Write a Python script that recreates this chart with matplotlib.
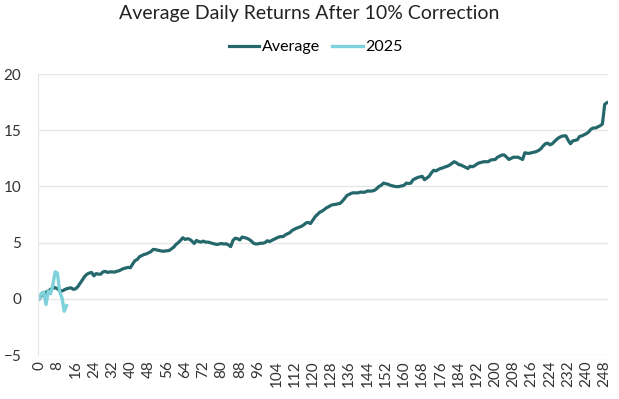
import matplotlib
matplotlib.use("Agg")
import matplotlib.pyplot as plt

average = [
    0.0, 0.3, 0.45, 0.6, 0.7, 0.85, 0.95, 1.0, 0.9, 0.75,
    0.7, 0.8, 0.9, 0.95, 0.98, 0.85, 0.9, 1.1, 1.4, 1.7,
    2.0, 2.2, 2.3, 2.35, 2.05, 2.25, 2.2, 2.2, 2.4, 2.45,
    2.35, 2.4, 2.4, 2.38, 2.45, 2.5, 2.6, 2.7, 2.75, 2.8,
    2.77, 3.1, 3.4, 3.5, 3.75, 3.85, 3.95, 4.0, 4.1, 4.2,
    4.4, 4.38, 4.33, 4.28, 4.24, 4.25, 4.28, 4.3, 4.45, 4.6,
    4.84, 5.0, 5.2, 5.44, 5.29, 5.35, 5.3, 5.14, 4.93, 5.2,
    5.1, 5.05, 5.14, 5.05, 5.05, 5.0, 4.93, 4.88, 4.84, 4.88,
    4.93, 4.88, 4.9, 4.8, 4.65, 5.2, 5.4, 5.35, 5.24, 5.5,
    5.45, 5.4, 5.3, 5.15, 4.95, 4.88, 4.9, 4.95, 4.95, 5.0,
    5.17, 5.1, 5.2, 5.3, 5.4, 5.5, 5.54, 5.54, 5.7, 5.8,
    5.9, 6.1, 6.2, 6.3, 6.38, 6.45, 6.58, 6.75, 6.8, 6.7,
    7.0, 7.3, 7.5, 7.7, 7.8, 7.94, 8.1, 8.2, 8.33, 8.38,
    8.41, 8.45, 8.5, 8.7, 8.94, 9.2, 9.3, 9.4, 9.44, 9.42,
    9.44, 9.5, 9.48, 9.5, 9.6, 9.58, 9.6, 9.65, 9.8, 10.0,
    10.1, 10.3, 10.24, 10.2, 10.1, 10.05, 10.0, 9.98, 10.0, 10.05,
    10.1, 10.3, 10.26, 10.3, 10.6, 10.7, 10.8, 10.85, 10.9, 10.6,
    10.75, 10.9, 11.2, 11.44, 11.38, 11.5, 11.6, 11.65, 11.74, 11.8,
    11.9, 12.05, 12.2, 12.1, 11.95, 11.9, 11.8, 11.7, 11.6, 11.8,
    11.75, 11.85, 12.0, 12.1, 12.15, 12.2, 12.2, 12.2, 12.35, 12.38,
    12.4, 12.6, 12.7, 12.8, 12.8, 12.6, 12.4, 12.5, 12.6, 12.6,
    12.6, 12.5, 12.4, 13.0, 12.95, 12.95, 13.0, 13.05, 13.1, 13.2,
    13.35, 13.6, 13.8, 13.85, 13.7, 13.8, 14.0, 14.2, 14.35, 14.45,
    14.5, 14.5, 14.1, 13.8, 14.05, 14.1, 14.15, 14.45, 14.5, 14.6,
    14.7, 14.85, 15.1, 15.2, 15.2, 15.3, 15.4, 15.55, 17.3, 17.45,
]
y2025 = [0.0, 0.5, 0.6, -0.5, 0.7, 0.45, 1.2, 2.4, 2.3, 0.6, 0.1, -1.1, -0.6]

x_tick_step = 8
y_ticks = [-5, 0, 5, 10, 15, 20]
title = "Average Daily Returns After 10% Correction"

plt.rcParams['font.family'] = ['Lato', 'DejaVu Sans']

fig = plt.figure(figsize=(6.19, 3.99), dpi=100)
ax = fig.add_axes([0.0614, 0.110, 0.921, 0.7045])

x_avg = list(range(len(average)))
x_25 = list(range(len(y2025)))
ax.plot(x_avg, average, color="#25686C", lw=2.3, label="Average", solid_joinstyle="round")
ax.plot(x_25, y2025, color="#7FD2DB", lw=2.4, label="2025", solid_joinstyle="round")

ax.set_xlim(-0.5, len(average) - 0.5)
ax.set_ylim(-5, 20)
ax.set_yticks(y_ticks)
ax.set_xticks(list(range(0, len(average), x_tick_step)))
ax.tick_params(axis='x', labelrotation=90, length=0, labelsize=11, labelcolor="#333333", pad=4)
ax.tick_params(axis='y', length=0, labelsize=11, labelcolor="#333333", pad=12)
ax.grid(axis='y', color="#e6e6e6", lw=0.9)
ax.set_axisbelow(True)
for s in ["top", "right", "bottom"]:
    ax.spines[s].set_visible(False)
ax.spines["left"].set_color("#e6e6e6")

fig.text(0.5, 0.965, title, ha="center", va="center", fontsize=14, color="#222222")
ax.legend(loc="center", bbox_to_anchor=(0.487, 1.095), ncol=2, frameon=False,
          fontsize=11.5, handlelength=1.9, columnspacing=0.8, handletextpad=0.15)

fig.savefig("out.png", dpi=100)
